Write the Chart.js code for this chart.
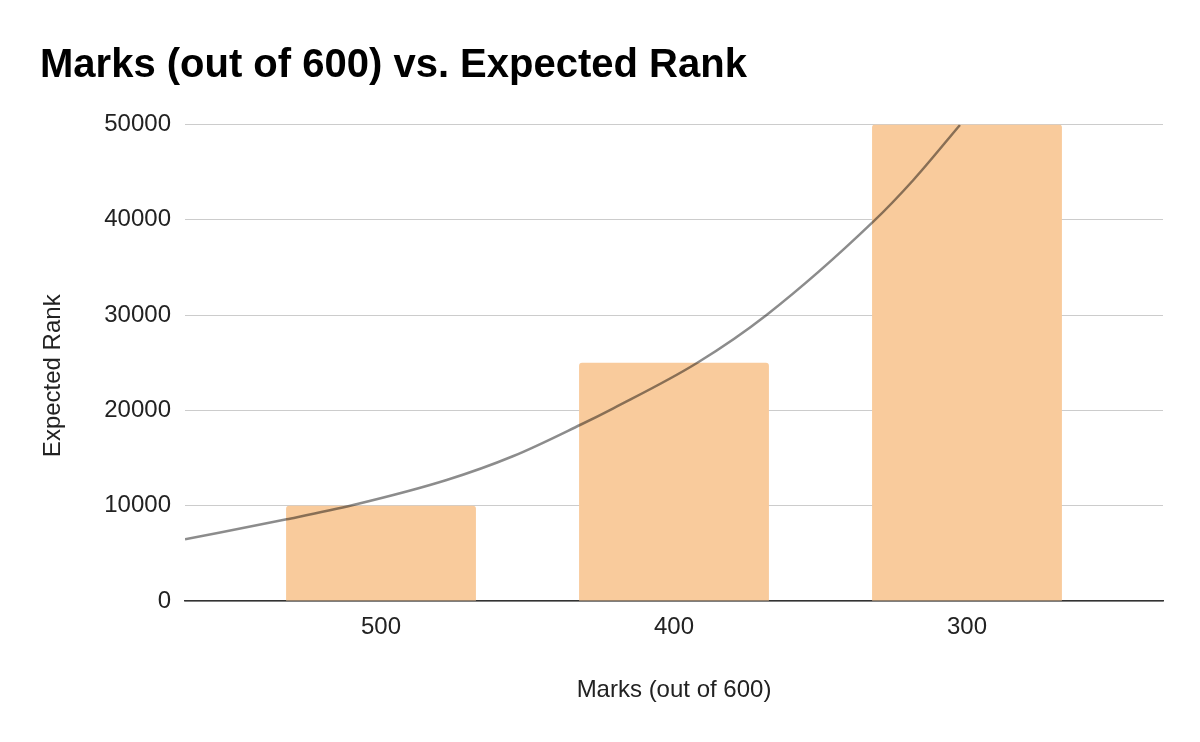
<!DOCTYPE html>
<html>
<head>
<meta charset="utf-8">
<script src="https://cdn.jsdelivr.net/npm/chart.js@4/dist/chart.umd.min.js"></script>
<style>
html,body{margin:0;padding:0;background:#fff;}
#c{display:block;}
</style>
</head>
<body>
<canvas id="c" width="1200" height="742"></canvas>
<script>
// ---- data ----
const categories = ['500', '400', '300'];
const categoryPositions = [1, 2, 3];
const expectedRank = [10000, 25000, 50000];
// exponential trendline, points (x in category units)
const trendX = [0.331, 0.678, 0.905, 1.224, 1.452, 1.679, 1.793, 2.077, 2.316, 2.680, 2.817, 2.976];
const trendY = [6474, 8573, 10073, 12697, 15215, 18468, 20220, 24942, 30010, 39800, 44176, 49948];
const yTicks = [0, 10000, 20000, 30000, 40000, 50000];
const yAxisTitle = 'Expected Rank';

const FONT = "'Liberation Sans', Arial, sans-serif";

const barData = categoryPositions.map((x, i) => ({x: x, y: expectedRank[i]}));
const lineData = trendX.map((x, i) => ({x: x, y: trendY[i]}));

// y-axis title drawn slightly below the chart-area centre, as in the reference
const yTitlePlugin = {
  id: 'yTitle',
  afterDraw(chart) {
    const ctx = chart.ctx;
    const area = chart.chartArea;
    ctx.save();
    ctx.font = '24px ' + FONT;
    ctx.fillStyle = '#222';
    ctx.textAlign = 'center';
    ctx.textBaseline = 'middle';
    ctx.translate(chart.scales.y.left + 13, (area.top + area.bottom) / 2 + 13);
    ctx.rotate(-Math.PI / 2);
    ctx.fillText(yAxisTitle, 0, 0);
    ctx.restore();
  }
};

new Chart(document.getElementById('c'), {
  data: {
    datasets: [
      {
        type: 'line',
        label: 'Trendline',
        data: lineData,
        borderColor: 'rgba(0,0,0,0.45)',
        borderWidth: 2.5,
        pointRadius: 0,
        fill: false,
        cubicInterpolationMode: 'monotone',
        order: 0
      },
      {
        type: 'bar',
        label: 'Expected Rank',
        data: barData,
        backgroundColor: '#f9cb9c',
        borderWidth: 0,
        borderRadius: 3,
        borderSkipped: 'start',
        categoryPercentage: 1,
        barPercentage: 0.648,
        order: 1
      }
    ]
  },
  plugins: [yTitlePlugin],
  options: {
    responsive: false,
    animation: false,
    devicePixelRatio: 1,
    layout: {padding: {left: 40, right: 37, top: 0, bottom: 0}},
    plugins: {
      legend: {display: false},
      tooltip: {enabled: false},
      title: {
        display: true,
        text: 'Marks (out of 600) vs. Expected Rank',
        align: 'start',
        color: '#000',
        font: {family: FONT, size: 40, weight: 'bold'},
        padding: {top: 42, bottom: 34.5}
      }
    },
    scales: {
      x: {
        type: 'linear',
        offset: false,
        min: 0.331,
        max: 3.669,
        grid: {display: false, drawTicks: false},
        border: {display: true, color: '#333', width: 1.5},
        afterBuildTicks: (s) => { s.ticks = categoryPositions.map(v => ({value: v})); },
        ticks: {
          color: '#222',
          font: {family: FONT, size: 24},
          padding: 11.5,
          maxRotation: 0,
          callback: (v) => { const i = categoryPositions.indexOf(v); return i >= 0 ? categories[i] : ''; }
        },
        title: {
          display: true,
          text: 'Marks (out of 600)',
          color: '#222',
          font: {family: FONT, size: 24},
          padding: {top: 0, bottom: 37.5}
        },
        afterFit: (s) => { s.height = 141; }
      },
      y: {
        type: 'linear',
        min: 0,
        max: 50000,
        grid: {color: '#cccccc', lineWidth: 1, drawTicks: false},
        border: {display: false},
        afterBuildTicks: (s) => { s.ticks = yTicks.map(v => ({value: v})); },
        ticks: {
          color: '#222',
          font: {family: FONT, size: 24},
          padding: 14,
          callback: (v) => String(v)
        },
        title: {display: false},
        afterFit: (s) => { s.width = 145; }
      }
    }
  }
});
</script>
</body>
</html>
